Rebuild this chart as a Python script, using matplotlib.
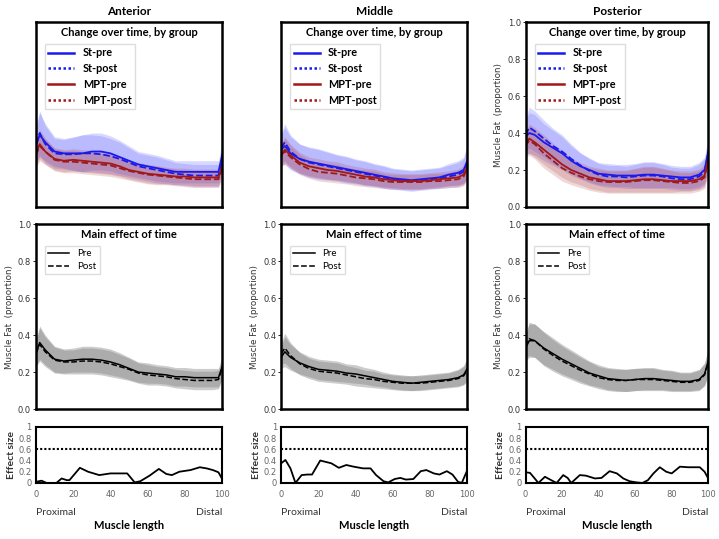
import numpy as np
import matplotlib
matplotlib.use("Agg")
import matplotlib.pyplot as plt

# Muscle length positions (% of length)
pos = [0, 2, 5, 10, 15, 20, 25, 30, 35, 40, 45, 50, 55, 60, 65, 70, 75, 80, 85, 90, 95, 98, 100]

regions = ["Anterior", "Middle", "Posterior"]

# Group curves (top row)
st_pre = [
    [0.33, 0.39, 0.35, 0.30, 0.29, 0.29, 0.29, 0.30, 0.30, 0.29, 0.27, 0.25, 0.23, 0.22, 0.21, 0.20, 0.19, 0.19, 0.19, 0.19, 0.19, 0.19, 0.28],
    [0.31, 0.33, 0.29, 0.26, 0.245, 0.235, 0.225, 0.215, 0.205, 0.195, 0.185, 0.175, 0.165, 0.155, 0.15, 0.145, 0.15, 0.155, 0.16, 0.175, 0.185, 0.20, 0.25],
    [0.38, 0.40, 0.39, 0.35, 0.32, 0.29, 0.25, 0.22, 0.20, 0.18, 0.175, 0.17, 0.17, 0.17, 0.175, 0.175, 0.17, 0.165, 0.16, 0.16, 0.175, 0.20, 0.30],
]
st_post = [
    [0.34, 0.40, 0.34, 0.29, 0.285, 0.285, 0.29, 0.29, 0.285, 0.275, 0.26, 0.24, 0.22, 0.21, 0.20, 0.19, 0.18, 0.175, 0.17, 0.17, 0.17, 0.17, 0.26],
    [0.32, 0.35, 0.30, 0.26, 0.24, 0.23, 0.22, 0.21, 0.20, 0.19, 0.18, 0.17, 0.16, 0.15, 0.145, 0.14, 0.145, 0.15, 0.155, 0.165, 0.175, 0.19, 0.24],
    [0.39, 0.43, 0.41, 0.37, 0.33, 0.30, 0.26, 0.225, 0.195, 0.175, 0.165, 0.165, 0.16, 0.165, 0.17, 0.17, 0.165, 0.155, 0.15, 0.15, 0.165, 0.19, 0.29],
]
mpt_pre = [
    [0.29, 0.34, 0.30, 0.26, 0.25, 0.255, 0.25, 0.245, 0.24, 0.235, 0.22, 0.20, 0.19, 0.18, 0.175, 0.17, 0.165, 0.165, 0.16, 0.16, 0.16, 0.16, 0.22],
    [0.28, 0.31, 0.28, 0.24, 0.22, 0.21, 0.20, 0.195, 0.185, 0.175, 0.165, 0.16, 0.15, 0.145, 0.14, 0.14, 0.14, 0.145, 0.15, 0.155, 0.16, 0.175, 0.22],
    [0.34, 0.37, 0.35, 0.31, 0.27, 0.23, 0.20, 0.18, 0.16, 0.15, 0.14, 0.14, 0.14, 0.145, 0.15, 0.15, 0.145, 0.14, 0.14, 0.14, 0.15, 0.17, 0.26],
]
mpt_post = [
    [0.28, 0.33, 0.30, 0.255, 0.245, 0.245, 0.24, 0.235, 0.23, 0.225, 0.21, 0.195, 0.185, 0.175, 0.17, 0.165, 0.16, 0.155, 0.15, 0.15, 0.15, 0.15, 0.21],
    [0.28, 0.30, 0.27, 0.23, 0.205, 0.19, 0.185, 0.18, 0.17, 0.16, 0.155, 0.15, 0.14, 0.135, 0.135, 0.135, 0.135, 0.14, 0.14, 0.145, 0.15, 0.165, 0.21],
    [0.33, 0.36, 0.34, 0.29, 0.25, 0.21, 0.185, 0.165, 0.15, 0.14, 0.135, 0.135, 0.135, 0.14, 0.145, 0.145, 0.14, 0.135, 0.13, 0.13, 0.14, 0.16, 0.25],
]
st_sd = [
    [0.09, 0.12, 0.10, 0.08, 0.08, 0.09, 0.10, 0.10, 0.10, 0.095, 0.09, 0.08, 0.07, 0.07, 0.07, 0.065, 0.06, 0.06, 0.06, 0.06, 0.06, 0.06, 0.08],
    [0.08, 0.10, 0.09, 0.08, 0.08, 0.08, 0.075, 0.07, 0.07, 0.065, 0.065, 0.06, 0.06, 0.055, 0.055, 0.055, 0.055, 0.055, 0.055, 0.06, 0.065, 0.07, 0.09],
    [0.09, 0.11, 0.11, 0.10, 0.095, 0.09, 0.08, 0.07, 0.065, 0.06, 0.06, 0.06, 0.06, 0.065, 0.07, 0.07, 0.065, 0.06, 0.06, 0.06, 0.065, 0.07, 0.08],
]
mpt_sd = [
    [0.07, 0.08, 0.07, 0.06, 0.06, 0.06, 0.06, 0.06, 0.06, 0.06, 0.055, 0.05, 0.05, 0.05, 0.05, 0.045, 0.045, 0.045, 0.045, 0.045, 0.045, 0.045, 0.06],
    [0.06, 0.07, 0.06, 0.055, 0.05, 0.05, 0.05, 0.05, 0.045, 0.045, 0.045, 0.045, 0.04, 0.04, 0.04, 0.04, 0.04, 0.04, 0.04, 0.04, 0.045, 0.05, 0.06],
    [0.06, 0.08, 0.08, 0.08, 0.075, 0.07, 0.065, 0.06, 0.06, 0.06, 0.06, 0.06, 0.06, 0.065, 0.07, 0.07, 0.065, 0.06, 0.055, 0.055, 0.055, 0.06, 0.07],
]

# Main effect of time (middle row)
main_pre = [
    [0.30, 0.36, 0.32, 0.27, 0.26, 0.265, 0.27, 0.27, 0.265, 0.255, 0.24, 0.22, 0.20, 0.195, 0.19, 0.185, 0.175, 0.175, 0.17, 0.17, 0.17, 0.17, 0.23],
    [0.28, 0.31, 0.28, 0.25, 0.23, 0.215, 0.21, 0.205, 0.195, 0.19, 0.18, 0.17, 0.16, 0.15, 0.145, 0.14, 0.145, 0.15, 0.155, 0.16, 0.17, 0.185, 0.22],
    [0.33, 0.37, 0.37, 0.33, 0.30, 0.27, 0.245, 0.22, 0.195, 0.18, 0.165, 0.16, 0.155, 0.16, 0.165, 0.165, 0.16, 0.155, 0.15, 0.15, 0.16, 0.19, 0.26],
]
main_post = [
    [0.30, 0.35, 0.31, 0.265, 0.255, 0.255, 0.26, 0.26, 0.255, 0.245, 0.23, 0.215, 0.195, 0.185, 0.18, 0.175, 0.165, 0.16, 0.155, 0.155, 0.155, 0.16, 0.22],
    [0.30, 0.33, 0.29, 0.245, 0.22, 0.205, 0.20, 0.195, 0.185, 0.175, 0.165, 0.16, 0.15, 0.145, 0.14, 0.14, 0.14, 0.145, 0.15, 0.155, 0.165, 0.18, 0.21],
    [0.34, 0.38, 0.37, 0.325, 0.29, 0.26, 0.235, 0.21, 0.19, 0.17, 0.16, 0.155, 0.155, 0.16, 0.16, 0.16, 0.155, 0.15, 0.145, 0.145, 0.155, 0.185, 0.25],
]
main_sd = [
    [0.07, 0.09, 0.08, 0.07, 0.065, 0.065, 0.07, 0.07, 0.07, 0.07, 0.065, 0.06, 0.055, 0.055, 0.05, 0.05, 0.05, 0.05, 0.05, 0.05, 0.05, 0.05, 0.06],
    [0.06, 0.08, 0.07, 0.06, 0.055, 0.055, 0.055, 0.055, 0.05, 0.05, 0.045, 0.045, 0.04, 0.04, 0.04, 0.04, 0.04, 0.04, 0.04, 0.04, 0.045, 0.05, 0.06],
    [0.07, 0.09, 0.09, 0.09, 0.085, 0.08, 0.075, 0.07, 0.065, 0.06, 0.06, 0.06, 0.06, 0.06, 0.06, 0.06, 0.055, 0.055, 0.05, 0.05, 0.055, 0.06, 0.07],
]

# Effect size (bottom row)
es_x = [
    [0, 3, 5.7, 11, 13.8, 16.5, 18, 23.6, 28, 34, 40, 49, 53, 56, 61, 66, 70, 73, 77, 83, 88, 91.6, 95, 98, 100],
    [0, 2.3, 5, 7.7, 11, 14, 16.6, 21, 24.6, 27, 31, 35, 39, 44, 48, 51, 55, 57.5, 61, 64, 67, 71, 75, 78, 82, 85, 89, 92, 95, 97, 100],
    [0, 2.4, 5, 7, 10.6, 14, 17, 20.6, 23, 25, 29.7, 33, 38, 41.6, 46, 50, 53.5, 57, 60.7, 64, 67, 70, 73.5, 77, 80, 84.5, 89, 95.4, 98, 100],
]
es_y = [
    [0.02, 0.04, 0.0, 0.0, 0.08, 0.05, 0.05, 0.27, 0.20, 0.14, 0.17, 0.17, 0.01, 0.03, 0.13, 0.25, 0.16, 0.14, 0.20, 0.23, 0.28, 0.26, 0.23, 0.19, 0.07],
    [0.35, 0.41, 0.26, 0.0, 0.14, 0.15, 0.15, 0.40, 0.37, 0.35, 0.27, 0.32, 0.29, 0.26, 0.26, 0.14, 0.03, 0.01, 0.07, 0.09, 0.06, 0.07, 0.21, 0.23, 0.17, 0.15, 0.21, 0.15, 0.02, 0.0, 0.23],
    [0.19, 0.18, 0.08, 0.0, 0.11, 0.05, 0.0, 0.14, 0.09, 0.0, 0.14, 0.13, 0.08, 0.09, 0.21, 0.17, 0.08, 0.03, 0.01, 0.0, 0.05, 0.17, 0.28, 0.20, 0.17, 0.29, 0.28, 0.28, 0.20, 0.08],
]
threshold = 0.6

st_color = "#1a1aee"
mpt_color = "#a01818"
title_font = "Lato"
yticks_txt = ["0.0", "0.2", "0.4", "0.6", "0.8", "1.0"]

fig = plt.figure(figsize=(7.19, 5.39), dpi=100)

lefts = [0.050, 0.391, 0.731]
widths = [0.259, 0.259, 0.254]

x = np.array(pos)
for c in range(3):
    # --- top row: change over time by group
    ax = fig.add_axes([lefts[c], 0.616, widths[c], 0.343])
    for mean in [st_pre[c], st_post[c]]:
        m, s = np.array(mean), np.array(st_sd[c])
        ax.fill_between(x, m - s, m + s, color="#5050ff", alpha=0.22, lw=0)
    for mean in [mpt_pre[c], mpt_post[c]]:
        m, s = np.array(mean), np.array(mpt_sd[c])
        ax.fill_between(x, m - s, m + s, color="#b04040", alpha=0.2, lw=0)
    ax.plot(x, st_pre[c], color=st_color, lw=1.3)
    ax.plot(x, st_post[c], color=st_color, lw=1.3, ls="--")
    ax.plot(x, mpt_pre[c], color=mpt_color, lw=1.3)
    ax.plot(x, mpt_post[c], color=mpt_color, lw=1.3, ls="--")
    ax.set_xlim(0, 100)
    ax.set_ylim(0, 1)
    ax.set_xticks([])
    ax.text(0.5, 0.975, "Change over time, by group", transform=ax.transAxes,
            ha="center", va="top", fontsize=8, fontweight="bold", family=title_font)
    leg = ax.legend(ax.lines[:4], ["St-pre", "St-post", "MPT-pre", "MPT-post"],
                    loc="upper left", bbox_to_anchor=(0.02, 0.91),
                    prop={"family": title_font, "weight": "bold", "size": 7.8},
                    handlelength=2.4, labelspacing=0.45, borderpad=0.3,
                    fancybox=False, framealpha=1, edgecolor="#dddddd")
    leg.get_lines()[1].set_linestyle((0, (1, 1)))
    leg.get_lines()[3].set_linestyle((0, (1, 1)))
    for lh in leg.get_lines():
        lh.set_linewidth(1.8)
    if c == 2:
        ax.set_yticks(np.arange(0, 1.01, 0.2))
        ax.set_yticklabels(yticks_txt)
        ax.tick_params(axis="y", labelsize=6, labelcolor="#333333", length=2, width=0.6, pad=1.5)
        ax.set_ylabel("Muscle Fat  (proportion)", fontsize=6.3, color="#333333", labelpad=3)
    else:
        ax.set_yticks([])
    for sp in ax.spines.values():
        sp.set_linewidth(1.8)
    ax.set_title(regions[c], fontsize=8.5, fontweight="bold", family=title_font, pad=5)

    # --- middle row: main effect of time
    ax = fig.add_axes([lefts[c], 0.241, widths[c], 0.343])
    for mean in [main_pre[c], main_post[c]]:
        m, s = np.array(mean), np.array(main_sd[c])
        ax.fill_between(x, m - s, m + s, color="#7a7a7a", alpha=0.38, lw=0)
    ax.plot(x, main_pre[c], color="black", lw=1.1, label="Pre")
    ax.plot(x, main_post[c], color="black", lw=1.1, ls="--", label="Post")
    ax.set_xlim(0, 100)
    ax.set_ylim(0, 1)
    ax.set_xticks([])
    ax.set_yticks(np.arange(0, 1.01, 0.2))
    ax.set_yticklabels(yticks_txt)
    ax.tick_params(axis="y", labelsize=6, labelcolor="#333333", length=2, width=0.6, pad=1.5)
    ax.set_ylabel("Muscle Fat  (proportion)", fontsize=6.3, color="#333333", labelpad=3)
    ax.text(0.5, 0.975, "Main effect of time", transform=ax.transAxes,
            ha="center", va="top", fontsize=8, fontweight="bold", family=title_font)
    ax.legend(loc="upper left", bbox_to_anchor=(0.02, 0.91),
              prop={"family": title_font, "size": 7}, handlelength=2.2,
              labelspacing=0.4, borderpad=0.35, fancybox=False, framealpha=1,
              edgecolor="#dddddd")
    for sp in ax.spines.values():
        sp.set_linewidth(1.8)

    # --- bottom row: effect size
    ax = fig.add_axes([lefts[c], 0.104, widths[c], 0.104])
    ax.plot(es_x[c], es_y[c], color="black", lw=1.3)
    ax.axhline(threshold, color="black", lw=1.5, ls=(0, (1, 1)))
    ax.set_xlim(0, 100)
    ax.set_ylim(0, 1)
    ax.set_xticks(np.arange(0, 101, 20))
    ax.set_yticks([0, 0.2, 0.4, 0.6, 0.8, 1])
    ax.set_yticklabels(["0", "0.2", "0.4", "0.6", "0.8", "1"])
    ax.tick_params(labelsize=6, labelcolor="#666666", length=0, pad=5)
    ax.tick_params(axis="y", pad=3)
    ax.set_ylabel("Effect size", fontsize=7.5, fontweight="bold", family=title_font,
                  color="#333333", labelpad=2)
    for sp in ax.spines.values():
        sp.set_linewidth(1.5)
    ax.text(0, -0.52, "Proximal", transform=ax.transAxes, ha="left", va="center",
            fontsize=7.5, family=title_font, color="#333333")
    ax.text(1, -0.52, "Distal", transform=ax.transAxes, ha="right", va="center",
            fontsize=7.5, family=title_font, color="#333333")
    ax.text(0.5, -0.76, "Muscle length", transform=ax.transAxes, ha="center", va="center",
            fontsize=8, fontweight="bold", family=title_font)

fig.savefig("out.png", dpi=100)
